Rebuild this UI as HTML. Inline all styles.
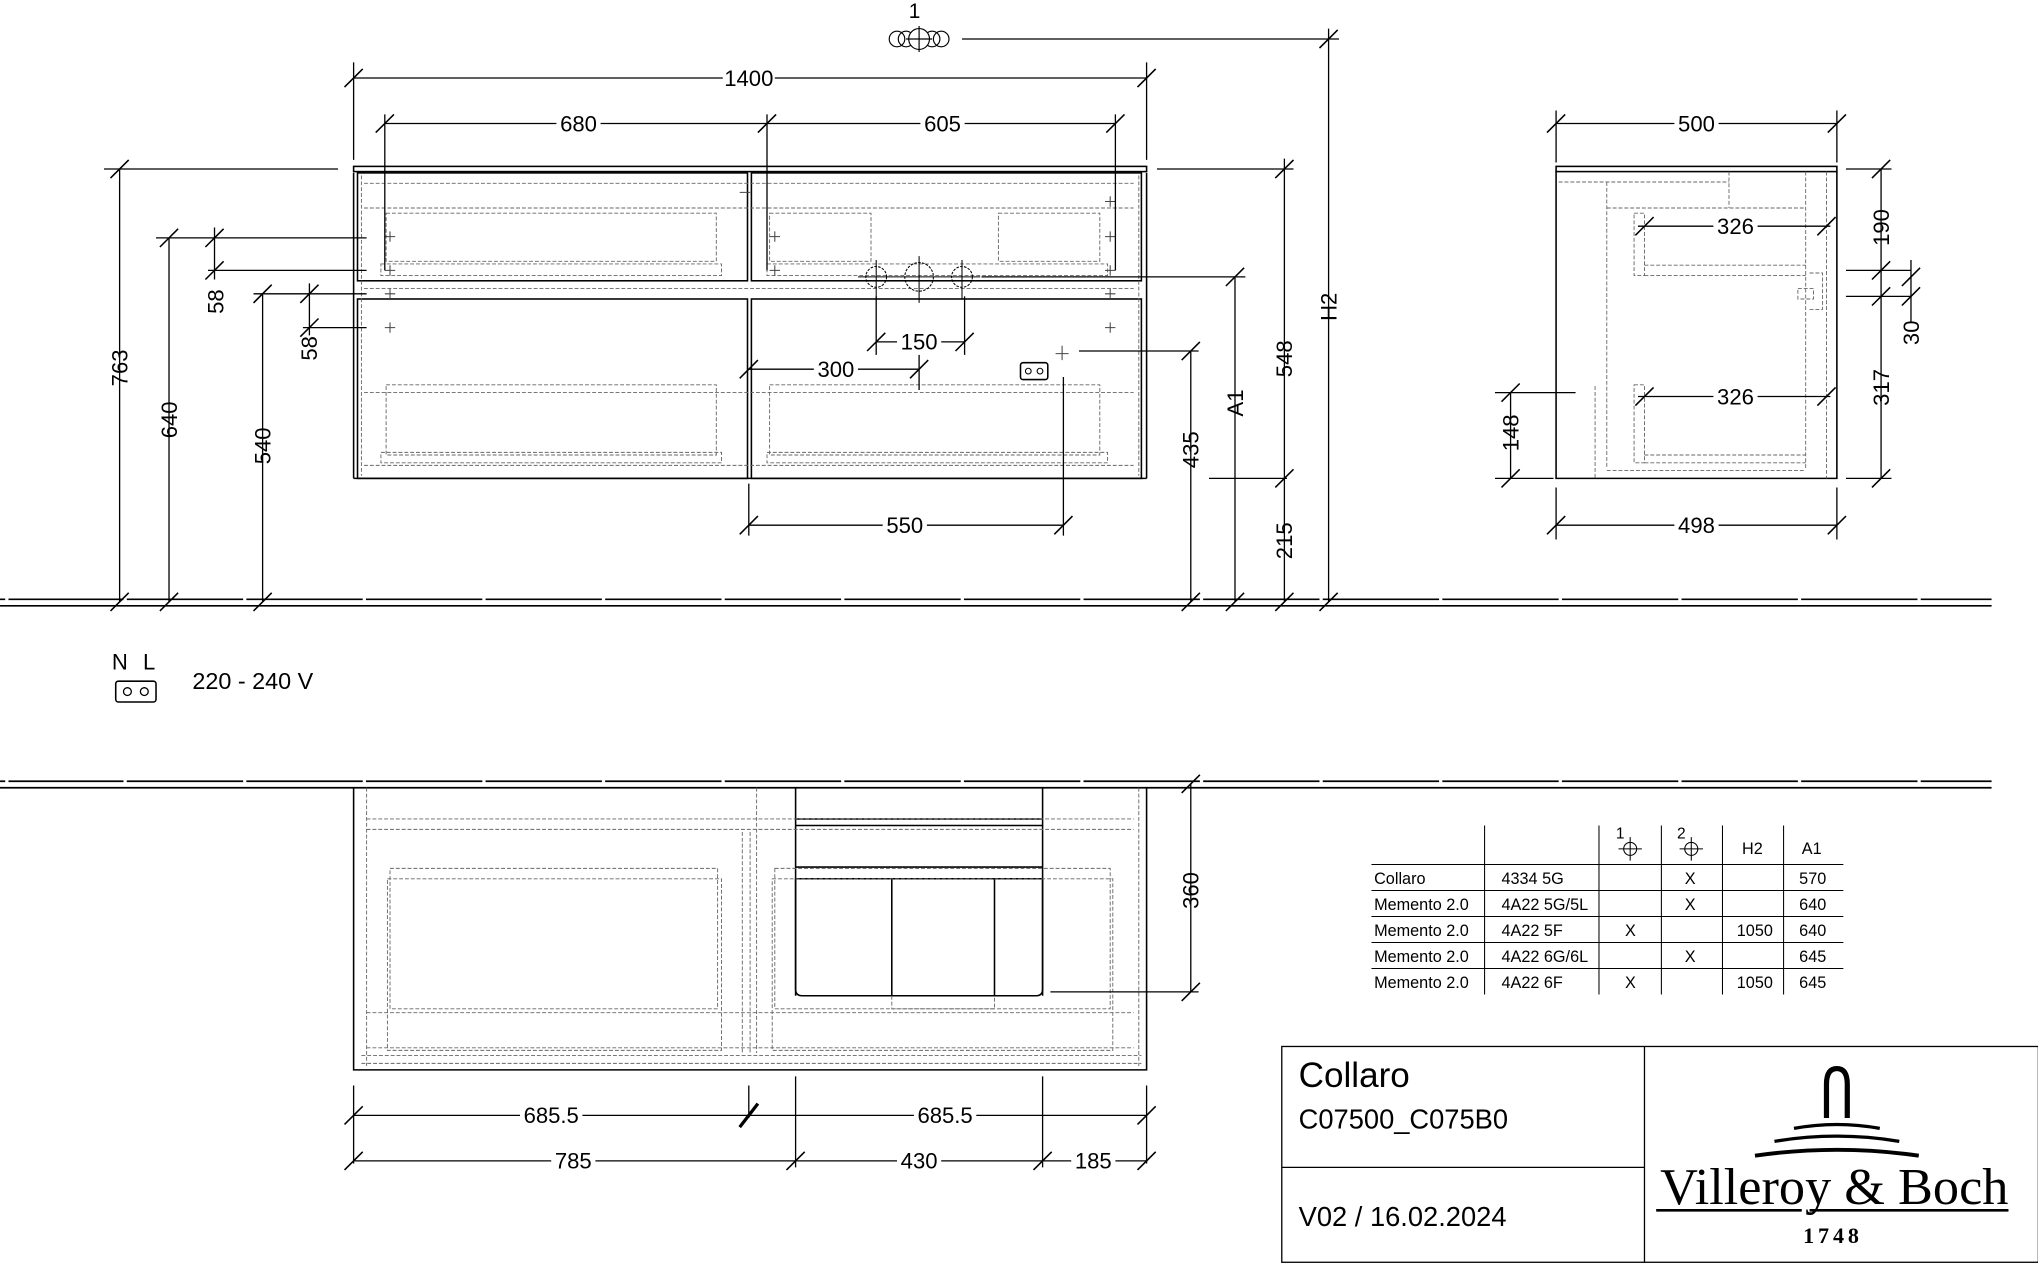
<!DOCTYPE html>
<html><head><meta charset="utf-8"><style>
html,body{margin:0;padding:0;background:#fff}
svg{display:block}
text{font-family:"Liberation Sans",sans-serif;fill:#000}
.d{font-size:17px;font-family:"Liberation Sans Narrow","Liberation Sans",sans-serif}
.t{font-size:12.5px}
.serif{font-family:"Liberation Serif",serif}
</style></head><body>
<svg width="2038" height="1265" viewBox="0 0 1567.7 973.1" xmlns="http://www.w3.org/2000/svg">
<defs>
<g id="tk"><line x1="-7" y1="7" x2="7" y2="-7" stroke="#000" stroke-width="1.2"/></g>
</defs>
<g fill="none" stroke="#000" stroke-width="1">
<line x1="0" y1="461" x2="1532" y2="461" stroke-width="1.3"/>
<line x1="0" y1="466" x2="1532" y2="466" stroke-width="1.3"/>
<line x1="0" y1="601" x2="1532" y2="601" stroke-width="1.3"/>
<line x1="0" y1="606" x2="1532" y2="606" stroke-width="1.3"/>
</g>
<g fill="#fff">
<rect x="4" y="459" width="2.5" height="5"/><rect x="95" y="459" width="2.5" height="5"/><rect x="187" y="459" width="2.5" height="5"/><rect x="279" y="459" width="2.5" height="5"/><rect x="371" y="459" width="2.5" height="5"/><rect x="463" y="459" width="2.5" height="5"/><rect x="555" y="459" width="2.5" height="5"/><rect x="647" y="459" width="2.5" height="5"/><rect x="739" y="459" width="2.5" height="5"/><rect x="831" y="459" width="2.5" height="5"/><rect x="923" y="459" width="2.5" height="5"/><rect x="1015" y="459" width="2.5" height="5"/><rect x="1107" y="459" width="2.5" height="5"/><rect x="1199" y="459" width="2.5" height="5"/><rect x="1291" y="459" width="2.5" height="5"/><rect x="1383" y="459" width="2.5" height="5"/><rect x="1475" y="459" width="2.5" height="5"/>
<rect x="4" y="599" width="2.5" height="5"/><rect x="95" y="599" width="2.5" height="5"/><rect x="187" y="599" width="2.5" height="5"/><rect x="279" y="599" width="2.5" height="5"/><rect x="371" y="599" width="2.5" height="5"/><rect x="463" y="599" width="2.5" height="5"/><rect x="555" y="599" width="2.5" height="5"/><rect x="647" y="599" width="2.5" height="5"/><rect x="739" y="599" width="2.5" height="5"/><rect x="831" y="599" width="2.5" height="5"/><rect x="923" y="599" width="2.5" height="5"/><rect x="1015" y="599" width="2.5" height="5"/><rect x="1107" y="599" width="2.5" height="5"/><rect x="1199" y="599" width="2.5" height="5"/><rect x="1291" y="599" width="2.5" height="5"/><rect x="1383" y="599" width="2.5" height="5"/><rect x="1475" y="599" width="2.5" height="5"/>
</g>

<!-- FRONT VIEW -->
<g fill="none" stroke="#000" stroke-width="1.2">
<rect x="272" y="128" width="610" height="4"/>
<rect x="275" y="133" width="300" height="83"/>
<rect x="578" y="133" width="300" height="83"/>
<rect x="275" y="230" width="300" height="138"/>
<rect x="578" y="230" width="300" height="138"/>
<line x1="272" y1="133" x2="272" y2="368"/><line x1="882" y1="133" x2="882" y2="368"/>
<line x1="272" y1="368" x2="882" y2="368"/>
</g>
<g fill="none" stroke="#666" stroke-width="0.7" stroke-dasharray="3,1.5">
<line x1="280" y1="160" x2="872" y2="160"/>
<line x1="280" y1="141" x2="872" y2="141"/>
<rect x="297" y="164" width="254" height="37"/><rect x="293" y="203" width="262" height="9"/>
<rect x="592" y="164" width="78" height="37"/><rect x="768" y="164" width="78" height="37"/><rect x="590" y="203" width="262" height="9"/>
<rect x="297" y="296" width="254" height="54"/><rect x="293" y="348" width="262" height="8"/>
<rect x="592" y="296" width="254" height="54"/><rect x="590" y="348" width="262" height="8"/>
<line x1="280" y1="302" x2="872" y2="302"/><line x1="280" y1="358" x2="872" y2="358"/>
<line x1="280" y1="222" x2="872" y2="222"/>
<line x1="876" y1="135" x2="876" y2="366"/><line x1="278" y1="135" x2="278" y2="366"/>
</g>
<g stroke="#000" stroke-width="0.8" fill="none">
<circle cx="674" cy="213" r="8" stroke-dasharray="2,1"/><circle cx="707" cy="213" r="11" stroke-dasharray="2,1"/><circle cx="740" cy="213" r="8" stroke-dasharray="2,1"/>
<path d="M660 213h94M674 200v30M707 197v36M740 200v30"/>
<rect x="785" y="279" width="21" height="13" rx="2" stroke-width="1.2"/>
<circle cx="791" cy="285.5" r="2.2"/><circle cx="800" cy="285.5" r="2.2"/>
<path d="M296 182h8M300 178v8M296 208h8M300 204v8M296 226h8M300 222v8M296 252h8M300 248v8M592 182h8M596 178v8M592 208h8M596 204v8M850 182h8M854 178v8M850 208h8M854 204v8M850 226h8M854 222v8M850 252h8M854 248v8M850 155h8M854 151v8M569 148h8M812 272h10M817 266v11" stroke="#444"/>
</g>

<g stroke="#000" stroke-width="1" fill="none">
<path d="M272 60h610M272 48v75M882 48v75"/>
<path d="M296 95h294M590 95h268M296 88v120M590 88v120M858 88v120"/>
<path d="M92 130v333M80 130h180"/>
<path d="M130 183v280M120 183h162"/>
<path d="M165 175v40M160 208h122"/>
<path d="M202 226v237M195 226h87"/>
<path d="M238 218v40M233 252h49"/>
<path d="M988 122v341M890 130h105M930 368h60"/>
<path d="M950 213v250M755 213h203"/>
<path d="M916 270v193M830 270h92"/>
<path d="M1022 22v441M740 30h290"/>
<path d="M674 228v45M742 228v45M674 263h68"/>
<path d="M576 284h131M707 270v30"/>
<path d="M576 372v40M818 290v122M576 404h242"/>
</g>
<g>
<use href="#tk" x="272" y="60"/><use href="#tk" x="882" y="60"/><use href="#tk" x="296" y="95"/><use href="#tk" x="590" y="95"/><use href="#tk" x="858" y="95"/>
<use href="#tk" x="92" y="130"/><use href="#tk" x="92" y="463"/><use href="#tk" x="130" y="183"/><use href="#tk" x="130" y="463"/>
<use href="#tk" x="165" y="183"/><use href="#tk" x="165" y="208"/><use href="#tk" x="202" y="226"/><use href="#tk" x="202" y="463"/>
<use href="#tk" x="238" y="226"/><use href="#tk" x="238" y="252"/><use href="#tk" x="988" y="130"/><use href="#tk" x="988" y="368"/><use href="#tk" x="988" y="463"/>
<use href="#tk" x="950" y="213"/><use href="#tk" x="950" y="463"/><use href="#tk" x="916" y="270"/><use href="#tk" x="916" y="463"/>
<use href="#tk" x="1022" y="30"/><use href="#tk" x="1022" y="463"/><use href="#tk" x="674" y="263"/><use href="#tk" x="742" y="263"/>
<use href="#tk" x="576" y="284"/><use href="#tk" x="707" y="284"/><use href="#tk" x="576" y="404"/><use href="#tk" x="818" y="404"/>
</g>
<g class="d" text-anchor="middle">
<rect x="556" y="50" width="40" height="20" fill="#fff"/><text x="576" y="66">1400</text>
<rect x="428" y="85" width="34" height="20" fill="#fff"/><text x="445" y="101">680</text>
<rect x="708" y="85" width="34" height="20" fill="#fff"/><text x="725" y="101">605</text>
<rect x="690" y="253" width="34" height="20" fill="#fff"/><text x="707" y="269">150</text>
<rect x="626" y="274" width="34" height="20" fill="#fff"/><text x="643" y="290">300</text>
<rect x="679" y="394" width="34" height="20" fill="#fff"/><text x="696" y="410">550</text>
<text transform="translate(98,283) rotate(-90)">763</text>
<text transform="translate(136,323) rotate(-90)">640</text>
<text transform="translate(172,232) rotate(-90)">58</text>
<text transform="translate(208,343) rotate(-90)">540</text>
<text transform="translate(244,268) rotate(-90)">58</text>
<text transform="translate(994,276) rotate(-90)">548</text>
<text transform="translate(994,416) rotate(-90)">215</text>
<text transform="translate(956,310) rotate(-90)">A1</text>
<text transform="translate(922,346) rotate(-90)">435</text>
<text transform="translate(1028,236) rotate(-90)">H2</text>
</g>
<g stroke="#000" stroke-width="0.9" fill="none">
<circle cx="690" cy="30" r="6"/><circle cx="697" cy="30" r="6"/><circle cx="717" cy="30" r="6"/><circle cx="724" cy="30" r="6"/><circle cx="707" cy="30" r="8" fill="#fff"/><path d="M707 20v20M697 30h20"/>
</g>
<text x="699" y="14" font-size="16">1</text>

<!-- SIDE VIEW -->
<g fill="none" stroke="#000" stroke-width="1.2">
<rect x="1197" y="128" width="216" height="4"/>
<path d="M1197 132v236h216V132"/>
</g>
<g fill="none" stroke="#666" stroke-width="0.7" stroke-dasharray="3,1.5">
<path d="M1199 140h131M1330 132v28M1236 140v220M1236 160h153M1389 132v228M1405 132v236"/>
<rect x="1257" y="164" width="8" height="48"/><path d="M1265 204h124M1265 212h124"/>
<rect x="1257" y="296" width="8" height="60"/><path d="M1265 350h124M1265 356h124M1236 362h153"/>
<path d="M1227 297v71"/>
<path d="M1392 210h10v28h-10M1383 222h12v8h-12z"/>
</g>
<g stroke="#000" stroke-width="1" fill="none">
<path d="M1197 95h216M1197 85v40M1413 85v40"/>
<path d="M1197 404h216M1197 375v40M1413 375v40"/>
<path d="M1260 174h148M1260 305h148"/>
<path d="M1447 130v238M1420 130h35M1420 208h50M1420 228h50M1420 368h35"/>
<path d="M1470 200v48"/>
<path d="M1162 302v66M1150 302h62M1150 368h45"/>
</g>
<g>
<use href="#tk" x="1197" y="95"/><use href="#tk" x="1413" y="95"/><use href="#tk" x="1197" y="404"/><use href="#tk" x="1413" y="404"/>
<use href="#tk" x="1265" y="174"/><use href="#tk" x="1405" y="174"/><use href="#tk" x="1265" y="305"/><use href="#tk" x="1405" y="305"/>
<use href="#tk" x="1447" y="130"/><use href="#tk" x="1447" y="208"/><use href="#tk" x="1447" y="228"/><use href="#tk" x="1447" y="368"/>
<use href="#tk" x="1470" y="213"/><use href="#tk" x="1470" y="228"/><use href="#tk" x="1162" y="302"/><use href="#tk" x="1162" y="368"/>
</g>
<g class="d" text-anchor="middle">
<rect x="1288" y="85" width="34" height="20" fill="#fff"/><text x="1305" y="101">500</text>
<rect x="1288" y="394" width="34" height="20" fill="#fff"/><text x="1305" y="410">498</text>
<rect x="1318" y="164" width="34" height="20" fill="#fff"/><text x="1335" y="180">326</text>
<rect x="1318" y="295" width="34" height="20" fill="#fff"/><text x="1335" y="311">326</text>
<text transform="translate(1453,175) rotate(-90)">190</text>
<text transform="translate(1476,256) rotate(-90)">30</text>
<text transform="translate(1453,298) rotate(-90)">317</text>
<text transform="translate(1168,333) rotate(-90)">148</text>
</g>

<!-- electrical -->
<text x="86" y="515" font-size="17">N</text><text x="110" y="515" font-size="17">L</text>
<rect x="89" y="524" width="31" height="16" rx="2" fill="none" stroke="#000" stroke-width="1.2"/>
<circle cx="98" cy="532" r="3" fill="none" stroke="#000"/><circle cx="111" cy="532" r="3" fill="none" stroke="#000"/>
<text x="148" y="530" font-size="18">220 - 240 V</text>

<!-- PLAN VIEW -->
<g fill="none" stroke="#000" stroke-width="1.2">
<path d="M272 606v217h610V606"/>
<path d="M612 606v160M802 606v160"/>
<path d="M612 630h190M612 635h190M612 667h190M612 676h190"/>
<path d="M612 676v85q0 5 5 5h180q5 0 5-5v-85"/>
<path d="M686 676v90M765 676v90"/>
</g>
<g fill="none" stroke="#666" stroke-width="0.7" stroke-dasharray="3,1.5">
<path d="M282 606v214M876 606v214M278 812h600M278 818h600M282 630h590M282 638h590M282 779h590M282 806h590"/>
<rect x="300" y="668" width="252" height="108"/><rect x="298" y="676" width="257" height="132"/>
<rect x="596" y="668" width="258" height="108"/><rect x="594" y="676" width="262" height="132"/>
<path d="M571 640v170M577 640v170M582 606v204"/>
<path d="M686 766v10h79v-10"/>
</g>
<g stroke="#000" stroke-width="1" fill="none">
<path d="M916 603v160M808 763h114"/>
<path d="M272 835v60M882 835v60M576 835v25M612 828v70M802 828v70"/>
<path d="M272 858h610M272 893h610"/>
<line x1="569" y1="867" x2="583" y2="849" stroke-width="2.5"/>
</g>
<g>
<use href="#tk" x="916" y="603"/><use href="#tk" x="916" y="763"/><use href="#tk" x="272" y="858"/><use href="#tk" x="882" y="858"/>
<use href="#tk" x="272" y="893"/><use href="#tk" x="612" y="893"/><use href="#tk" x="802" y="893"/><use href="#tk" x="882" y="893"/>
</g>
<g class="d" text-anchor="middle">
<rect x="400" y="848" width="48" height="20" fill="#fff"/><text x="424" y="864">685.5</text>
<rect x="703" y="848" width="48" height="20" fill="#fff"/><text x="727" y="864">685.5</text>
<rect x="424" y="883" width="34" height="20" fill="#fff"/><text x="441" y="899">785</text>
<rect x="690" y="883" width="34" height="20" fill="#fff"/><text x="707" y="899">430</text>
<rect x="824" y="883" width="34" height="20" fill="#fff"/><text x="841" y="899">185</text>
<text transform="translate(922,685) rotate(-90)">360</text>
</g>

<!-- TABLE -->
<g stroke="#000" stroke-width="0.8" fill="none">
<path d="M1142 635v130M1230 635v130M1278 635v130M1325 635v130M1372 635v130"/>
<path d="M1055 665h363M1055 685h363M1055 705h363M1055 725h363M1055 745h363"/>
<circle cx="1254" cy="653" r="5"/><path d="M1245 653h18M1254 644v18"/>
<circle cx="1301" cy="653" r="5"/><path d="M1292 653h18M1301 644v18"/>
</g>
<g class="t">
<text x="1243" y="645" font-size="12">1</text><text x="1290" y="645" font-size="12">2</text>
<text x="1340" y="657">H2</text><text x="1386" y="657">A1</text>
<text x="1057" y="680">Collaro</text><text x="1155" y="680">4334 5G</text><text x="1296" y="680">X</text><text x="1384" y="680">570</text>
<text x="1057" y="700">Memento 2.0</text><text x="1155" y="700">4A22 5G/5L</text><text x="1296" y="700">X</text><text x="1384" y="700">640</text>
<text x="1057" y="720">Memento 2.0</text><text x="1155" y="720">4A22 5F</text><text x="1250" y="720">X</text><text x="1336" y="720">1050</text><text x="1384" y="720">640</text>
<text x="1057" y="740">Memento 2.0</text><text x="1155" y="740">4A22 6G/6L</text><text x="1296" y="740">X</text><text x="1384" y="740">645</text>
<text x="1057" y="760">Memento 2.0</text><text x="1155" y="760">4A22 6F</text><text x="1250" y="760">X</text><text x="1336" y="760">1050</text><text x="1384" y="760">645</text>
</g>

<!-- TITLE BLOCK -->
<g fill="none" stroke="#000" stroke-width="1">
<rect x="986" y="805" width="582" height="166"/>
<path d="M1265 805v166M986 898h279"/>
</g>
<text x="999" y="836" font-size="27">Collaro</text>
<text x="999" y="868" font-size="21">C07500_C075B0</text>
<text x="999" y="943" font-size="21">V02 / 16.02.2024</text>
<g fill="none" stroke="#000">
<path d="M1405 860v-26q0-12 8-12t8 12v26" stroke-width="4"/>
<path d="M1380 868q33-6 66 0" stroke-width="2.5"/>
<path d="M1365 878q48-8 96 0" stroke-width="2.5"/>
<path d="M1350 889q63-9 126 0" stroke-width="3"/>
<path d="M1274 931h112M1392 931h153" stroke-width="2"/>
</g>
<text class="serif" x="1277" y="926" font-size="40" textLength="268" lengthAdjust="spacingAndGlyphs">Villeroy &amp; Boch</text>
<text class="serif" x="1410" y="956" font-size="17" font-weight="bold" text-anchor="middle" letter-spacing="3">1748</text>
</svg>
</body></html>
